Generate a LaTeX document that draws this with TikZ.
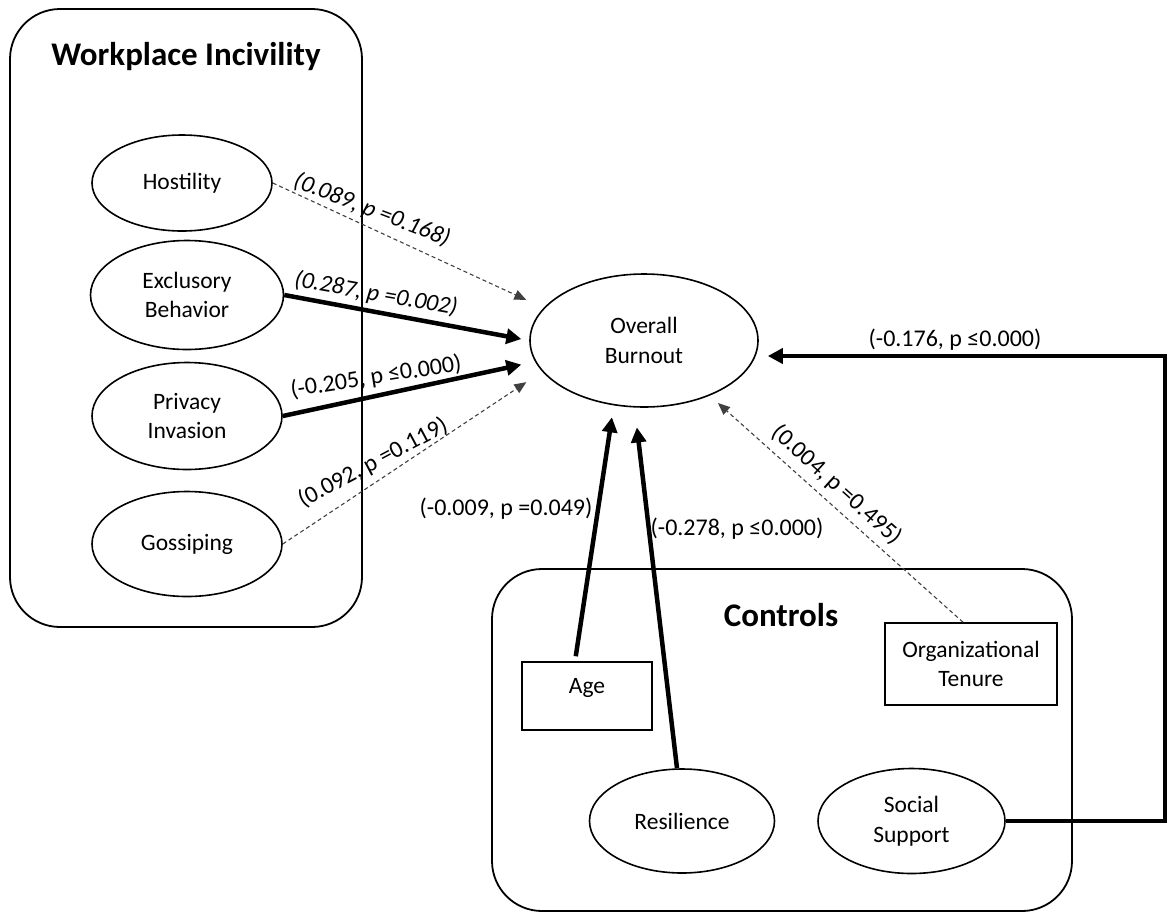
\documentclass[tikz,border=0pt]{standalone}
\usepackage{fontspec}
\setmainfont{Carlito}
\usetikzlibrary{arrows.meta,shapes.geometric}

\begin{document}
\begin{tikzpicture}[x=1pt,y=-1pt,
  every node/.style={font=\fontsize{23.5}{29.5}\selectfont},
  grp/.style={draw, line width=1.8pt, rounded corners=50pt},
  var/.style={draw, ellipse, line width=1.6pt, inner sep=0pt, align=center},
  ctl/.style={draw, rectangle, line width=1.6pt, inner sep=0pt, align=center},
  strong/.style={line width=4.5pt, -{Triangle[length=15pt,width=15pt]}},
  weak/.style={line width=1.1pt, black!75, dash pattern=on 4pt off 3pt,
               -{Triangle[length=12pt,width=10pt]}},
  coef/.style={inner sep=0pt, font=\fontsize{24}{29}\selectfont},
  ttl/.style={font=\fontsize{33}{38}\selectfont\bfseries}]

\useasboundingbox (0,0) rectangle (1168,914);

% group frames
\draw[grp] (10,9) rectangle (362,627);
\draw[grp] (492,569) rectangle (1072,911);
\node[ttl] (wtitle) at (186,57) {Workplace Incivility};
\node[ttl] (ctitle) at (781,615) {Controls};

% incivility dimensions
\node[var, minimum width=180pt, minimum height=96pt]  (host) at (182,183) {Hostility};
\node[var, minimum width=193pt, minimum height=109pt] (excl) at (187,295) {Exclusory\\Behavior};
\node[var, minimum width=190pt, minimum height=107pt] (priv) at (187,416) {Privacy\\Invasion};
\node[var, minimum width=190pt, minimum height=105pt] (goss) at (187,544) {Gossiping};

% outcome
\node[var, minimum width=228pt, minimum height=133pt] (burn) at (644,340.5) {Overall\\Burnout};

% control variables
\node[ctl, minimum width=130pt, minimum height=68pt, text height=15pt, text depth=21pt]
  (age) at (587,696) {Age};
\node[ctl, minimum width=172pt, minimum height=82pt] (ten) at (971,664) {Organizational\\Tenure};
\node[var, minimum width=185pt, minimum height=104pt] (res) at (682,821) {Resilience};
\node[var, minimum width=187pt, minimum height=105pt] (soc) at (911.5,821) {Social\\Support};

% paths into burnout
\draw[weak, shorten >=19pt]   (host.east) -- (burn.162);
\draw[strong, shorten >=8pt]  (excl.east) -- (burn.180.5);
\draw[strong, shorten >=14pt] (priv.east) -- (burn.191.3);
\draw[weak, shorten >=19pt]   (goss.east) -- (burn.197.8);
\draw[strong, shorten <=5pt, shorten >=12pt] ([xshift=-12pt]age.north) -- (burn.245.6);
\draw[strong, shorten >=20pt] ([xshift=-5pt]res.north) -- (burn.262.9);
\draw[weak, shorten >=11pt]   ([xshift=-8pt]ten.north) -- (burn.320.6);
\coordinate (bend) at (1165,356);
\draw[strong, shorten >=9pt] (soc.east) -| (bend) -- (bend -| burn.east);

% path coefficients
\node[coef, rotate=-21] (c1) at (372,210) {\itshape (0.089, p =0.168)};
\node[coef, rotate=-10] (c2) at (376,294) {\itshape (0.287, p =0.002)};
\node[coef, rotate=9]   (c3) at (376,377) {(-0.205, p ≤0.000)};
\node[coef, rotate=28]  (c4) at (373,463) {(0.092, p =0.119)};
\node[coef]             (c5) at (506,509) {(-0.009, p =0.049)};
\node[coef]             (c6) at (737,529) {(-0.278, p ≤0.000)};
\node[coef, rotate=-42] (c7) at (837,485) {(0.004, p =0.495)};
\node[coef]             (c8) at (955,340) {(-0.176, p ≤0.000)};
\end{tikzpicture}
\end{document}
